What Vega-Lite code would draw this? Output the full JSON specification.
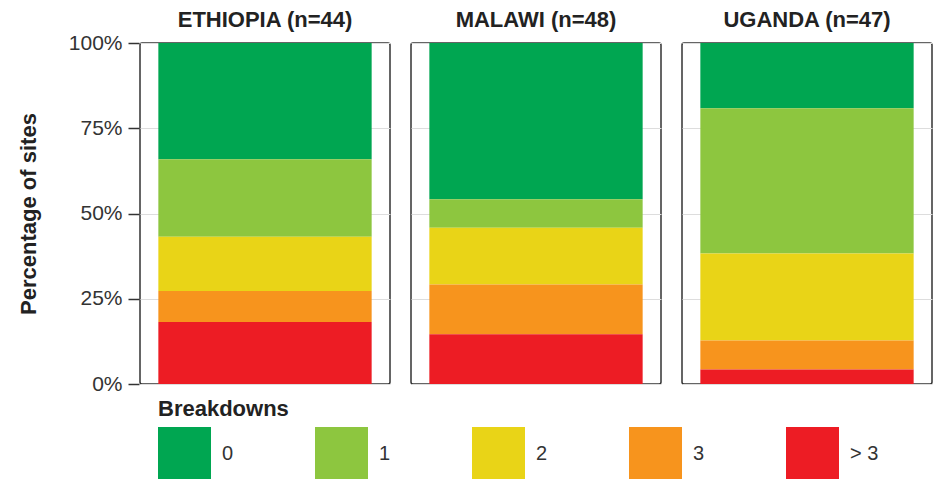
{
  "$schema": "https://vega.github.io/schema/vega-lite/v6.json",
  "padding": {"left": 17, "top": 9, "right": 0, "bottom": 0},
  "data": {"values": [
    {"country": "ETHIOPIA (n=44)", "breakdowns": "0", "level": 0, "count": 15},
    {"country": "ETHIOPIA (n=44)", "breakdowns": "1", "level": 1, "count": 10},
    {"country": "ETHIOPIA (n=44)", "breakdowns": "2", "level": 2, "count": 7},
    {"country": "ETHIOPIA (n=44)", "breakdowns": "3", "level": 3, "count": 4},
    {"country": "ETHIOPIA (n=44)", "breakdowns": "> 3", "level": 4, "count": 8},
    {"country": "MALAWI (n=48)", "breakdowns": "0", "level": 0, "count": 22},
    {"country": "MALAWI (n=48)", "breakdowns": "1", "level": 1, "count": 4},
    {"country": "MALAWI (n=48)", "breakdowns": "2", "level": 2, "count": 8},
    {"country": "MALAWI (n=48)", "breakdowns": "3", "level": 3, "count": 7},
    {"country": "MALAWI (n=48)", "breakdowns": "> 3", "level": 4, "count": 7},
    {"country": "UGANDA (n=47)", "breakdowns": "0", "level": 0, "count": 9},
    {"country": "UGANDA (n=47)", "breakdowns": "1", "level": 1, "count": 20},
    {"country": "UGANDA (n=47)", "breakdowns": "2", "level": 2, "count": 12},
    {"country": "UGANDA (n=47)", "breakdowns": "3", "level": 3, "count": 4},
    {"country": "UGANDA (n=47)", "breakdowns": "> 3", "level": 4, "count": 2}
  ]},
  "facet": {
    "column": {
      "field": "country", "type": "nominal",
      "sort": ["ETHIOPIA (n=44)", "MALAWI (n=48)", "UGANDA (n=47)"],
      "header": {"title": null, "labelFont": "Liberation Sans", "labelFontSize": 22, "labelFontWeight": "bold", "labelColor": "#222", "labelPadding": 10}
    }
  },
  "spacing": 19,
  "resolve": {"scale": {"x": "independent"}},
  "spec": {
    "width": 250,
    "height": 341,
    "mark": {"type": "bar"},
    "encoding": {
      "x": {"field": "country", "type": "nominal", "axis": null, "scale": {"paddingInner": 0, "paddingOuter": 0.086}},
      "y": {
        "field": "count", "type": "quantitative", "stack": "normalize",
        "scale": {"domain": [0, 1]},
        "axis": {
          "values": [0, 0.25, 0.5, 0.75, 1], "format": ".0%",
          "title": "Percentage of sites", "titleFont": "Liberation Sans", "titleFontSize": 22, "titleFontWeight": "bold", "titleColor": "#222", "titlePadding": 28,
          "labelFont": "Liberation Sans", "labelFontSize": 21, "labelColor": "#333", "labelPadding": 6,
          "domain": false, "tickColor": "#333", "tickSize": 11, "tickWidth": 1.5,
          "grid": true, "gridColor": "#dddddd", "gridWidth": 1
        }
      },
      "color": {
        "field": "breakdowns", "type": "nominal",
        "scale": {"domain": ["0", "1", "2", "3", "> 3"], "range": ["#00A651", "#8DC63F", "#E9D417", "#F7941D", "#ED1C24"]},
        "legend": {
          "orient": "none", "legendX": 18, "legendY": 356, "direction": "horizontal", "columns": 5, "gridAlign": "all",
          "title": "Breakdowns", "titleFont": "Liberation Sans", "titleFontSize": 22, "titleFontWeight": "bold", "titleColor": "#222", "titlePadding": 6,
          "symbolType": "square", "symbolSize": 2809, "symbolStrokeWidth": 0, "symbolOpacity": 1,
          "labelFont": "Liberation Sans", "labelFontSize": 20, "labelColor": "#333", "labelOffset": 11, "columnPadding": 64
        }
      },
      "order": {"field": "level", "sort": "descending"}
    }
  },
  "config": {
    "view": {"stroke": "#333", "strokeWidth": 1.5, "cornerRadius": 2},
    "bar": {"stroke": null}
  }
}
